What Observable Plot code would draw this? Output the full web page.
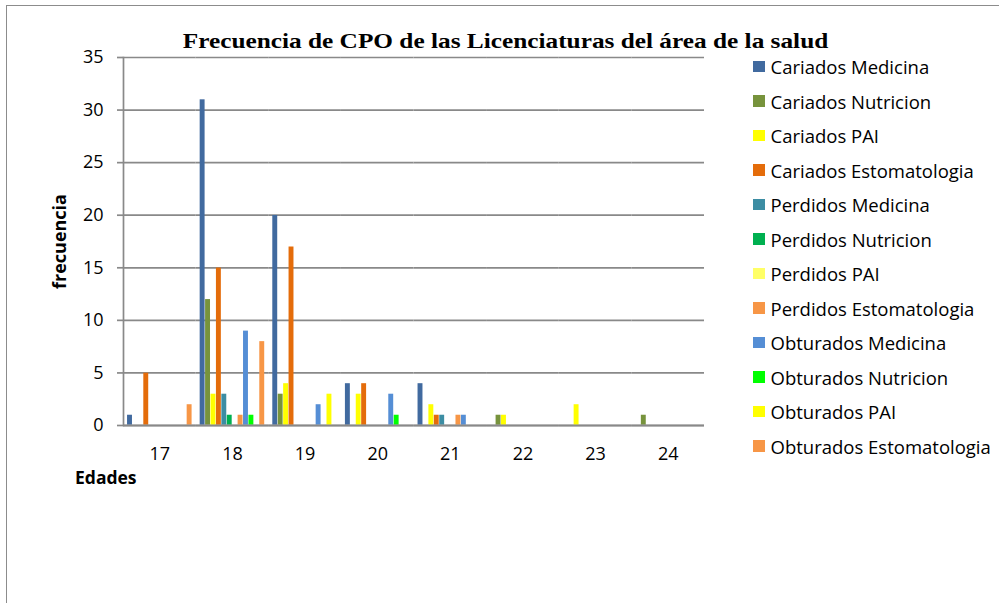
<!DOCTYPE html>
<html>
<head>
<meta charset="utf-8">
<script src="https://cdn.jsdelivr.net/npm/d3@7"></script>
<script src="https://cdn.jsdelivr.net/npm/@observablehq/plot@0.6"></script>
<style>
  html, body { margin: 0; padding: 0; background: #fff; overflow: hidden; }
  #wrap { position: relative; width: 999px; height: 603px; overflow: hidden; font-family: "Open Sans", sans-serif; }
  #border { position: absolute; left: 6px; top: 5px; width: 1200px; height: 800px; border: 1px solid #8c8c8c; box-sizing: border-box; }
  #chart { position: absolute; left: 0; top: 0; }
  #title { position: absolute; left: 0; width: 1011px; top: 27.5px; text-align: center; font-family: "Liberation Serif", serif; font-weight: bold; font-size: 22px; color: #000; white-space: nowrap; transform: scaleX(1.15); transform-origin: 505.5px 50%; }
  #xlabel { position: absolute; left: 75px; top: 465px; font-weight: bold; font-size: 17.5px; color: #000; }
  #legend { position: absolute; left: 753px; top: 0; }
  .item { position: absolute; left: 0; white-space: nowrap; display: flex; align-items: center; font-size: 18.5px; line-height: 25px; color: #000; }
  .sw { width: 11.5px; height: 11.5px; margin-right: 6px; }
  #chart svg [aria-label="y-axis label"] { font-weight: bold; font-size: 18px; }
</style>
</head>
<body>
<div id="wrap">
  <div id="border"></div>
  <div id="chart"></div>
  <div id="title">Frecuencia de CPO de las Licenciaturas del área de la salud</div>
  <div id="xlabel">Edades</div>
  <div id="legend"></div>
</div>
<script>
const ages = ["17", "18", "19", "20", "21", "22", "23", "24"];
const seriesNames = [
  "Cariados Medicina", "Cariados Nutricion", "Cariados PAI", "Cariados Estomatologia",
  "Perdidos Medicina", "Perdidos Nutricion", "Perdidos PAI", "Perdidos Estomatologia",
  "Obturados Medicina", "Obturados Nutricion", "Obturados PAI", "Obturados Estomatologia"
];
const seriesColors = [
  "#416a9f", "#77933c", "#ffff00", "#e46c0a",
  "#3c8da3", "#00b050", "#ffff66", "#f79646",
  "#558ed5", "#00ff00", "#ffff00", "#f79646"
];
const yTicks = [0, 5, 10, 15, 20, 25, 30, 35];

const cariadosMedicina       = [1, 31, 20, 4, 4, 0, 0, 0];
const cariadosNutricion      = [0, 12, 3, 0, 0, 1, 0, 1];
const cariadosPAI            = [0, 3, 4, 3, 2, 1, 2, 0];
const cariadosEstomatologia  = [5, 15, 17, 4, 1, 0, 0, 0];
const perdidosMedicina       = [0, 3, 0, 0, 1, 0, 0, 0];
const perdidosNutricion      = [0, 1, 0, 0, 0, 0, 0, 0];
const perdidosPAI            = [0, 0, 0, 0, 0, 0, 0, 0];
const perdidosEstomatologia  = [0, 1, 0, 0, 1, 0, 0, 0];
const obturadosMedicina      = [0, 9, 2, 3, 1, 0, 0, 0];
const obturadosNutricion     = [0, 1, 0, 1, 0, 0, 0, 0];
const obturadosPAI           = [0, 0, 3, 0, 0, 0, 0, 0];
const obturadosEstomatologia = [2, 8, 0, 0, 0, 0, 0, 0];

const seriesValues = [
  cariadosMedicina, cariadosNutricion, cariadosPAI, cariadosEstomatologia,
  perdidosMedicina, perdidosNutricion, perdidosPAI, perdidosEstomatologia,
  obturadosMedicina, obturadosNutricion, obturadosPAI, obturadosEstomatologia
];

const rows = [];
seriesNames.forEach((s, i) => {
  ages.forEach((a, j) => {
    const v = seriesValues[i][j];
    if (v > 0) rows.push({age: a, series: s, value: v});
  });
});

const gridColor = "#898989";

const chart = Plot.plot({
  width: 720,
  height: 500,
  marginLeft: 123,
  marginRight: 16,
  marginTop: 57,
  marginBottom: 75,
  style: {fontFamily: "Open Sans, sans-serif", fontSize: "18px", color: "#000", background: "transparent"},
  fx: {domain: ages, paddingInner: 0, paddingOuter: 0, round: false, label: null},
  x: {domain: seriesNames, paddingInner: 0, paddingOuter: 0.7, round: false, axis: null},
  y: {domain: [0, 35], label: null},
  color: {domain: seriesNames, range: seriesColors},
  marks: [
    Plot.gridY(yTicks, {stroke: gridColor, strokeOpacity: 1, strokeWidth: 1.7}),
    Plot.axisY(yTicks, {tickSize: 6, tickPadding: 14, stroke: gridColor, strokeWidth: 1.7, label: "frecuencia", labelAnchor: "center", labelOffset: 70, labelArrow: "none"}),
    Plot.axisFx({anchor: "bottom", tickSize: 0, tickPadding: 22, label: null}),
    Plot.frame({anchor: "left", facetAnchor: "left", stroke: gridColor, strokeWidth: 1.7}),
    Plot.barY(rows, {fx: "age", x: "series", y: "value", fill: "series", inset: 0.25}),
    Plot.ruleY([0], {stroke: gridColor, strokeWidth: 2.2})
  ]
});
document.getElementById("chart").appendChild(chart);

const legend = document.getElementById("legend");
seriesNames.forEach((s, i) => {
  const item = document.createElement("div");
  item.className = "item";
  item.style.top = (54.2 + i * 34.5) + "px";
  const sw = document.createElement("span");
  sw.className = "sw";
  sw.style.background = seriesColors[i];
  const t = document.createElement("span");
  t.textContent = s;
  item.appendChild(sw);
  item.appendChild(t);
  legend.appendChild(item);
});
</script>
</body>
</html>
